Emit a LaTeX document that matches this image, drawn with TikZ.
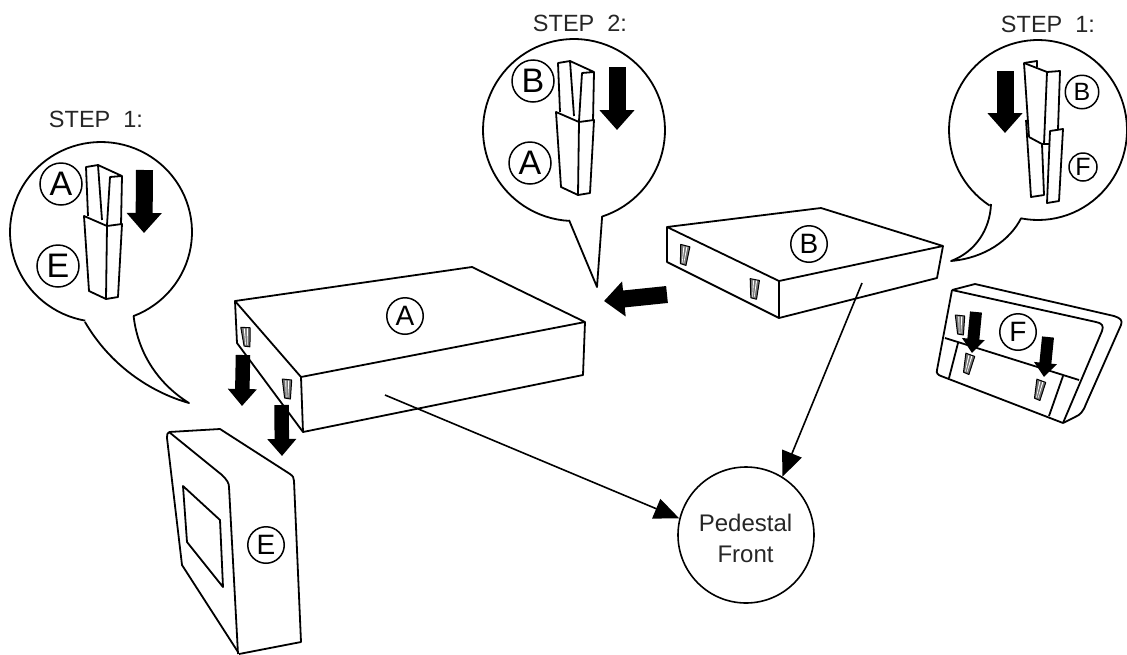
\documentclass[tikz,border=0pt]{standalone}
\usepackage{fontspec}
\setmainfont{Liberation Sans}
\usetikzlibrary{arrows.meta}
\tikzset{
  x=1pt,y=-1pt,
  ink/.style={line width=1.8pt,line join=round,draw=black},
  lead/.style={line width=1.6pt,-{Triangle[length=25pt,width=21pt]}},
  fatL/.style={line width=17pt,-{Triangle[length=20pt,width=34pt]}},
  fatM/.style={line width=14.5pt,-{Triangle[length=17pt,width=28pt]}},
  fatS/.style={line width=12pt,-{Triangle[length=14pt,width=22pt]}},
  steptext/.style={font=\fontsize{23.5}{28}\selectfont,inner sep=0pt,text=black!85},
  ringbig/.style={circle,draw,line width=1.5pt,minimum size=42pt,inner sep=0pt,font=\fontsize{34}{36}\selectfont},
  ringmid/.style={circle,draw,line width=1.5pt,minimum size=36.5pt,inner sep=0pt,font=\fontsize{28}{30}\selectfont},
  ringsm/.style={circle,draw,line width=1.5pt,minimum size=33.5pt,inner sep=0pt,font=\fontsize{25}{28}\selectfont},
  ringxs/.style={circle,draw,line width=1.5pt,minimum size=28pt,inner sep=0pt,font=\fontsize{25}{28}\selectfont},
}
\newcommand\fatarrow[4]{\coordinate (#2s) at (#3); \coordinate (#2e) at (#4); \draw[#1] (#2s) -- (#2e);}
\newcommand\slotmark[3]{%
  \begin{scope}[shift={(#1,#2)},rotate=#3]
    \filldraw[fill=black!55,draw=black,line width=1pt,line join=round] (-4.7,-10) -- (4.7,-9) -- (3.4,10) -- (-2.4,9) -- cycle;
    \fill[white] (-1.8,-8.5) -- (-.7,-8.5) -- (-.5,8) -- (-1,8) -- cycle;
    \fill[white] (1.2,-8.5) -- (2.3,-8.5) -- (1.2,8) -- (.7,8) -- cycle;
  \end{scope}}
\newcommand\jointshape[2]{%
  \begin{scope}[shift={(#1,#2)}]
    \draw[ink] (88,216) -- (86,167) -- (98,165) -- (122,176) -- (110,177) -- (107,225);
    \draw[ink] (98,165) -- (102,220);
    \draw[ink] (122,176) -- (121,225);
    \draw[ink] (84,216) -- (107,226) -- (122,224) -- (118,297) -- (106,299) -- (89,291) -- cycle;
    \draw[ink] (107,226) -- (106,299);
  \end{scope}}
\begin{document}
\begin{tikzpicture}
\useasboundingbox (0,0) rectangle (1127,654);

% bubbles
\draw[ink] plot[domain=100:429,samples=90,variable=\t] ({101+91*cos(\t)},{232+90*sin(\t)})
  .. controls (138,355) and (160,385) .. (189,403)
  .. controls (150,392) and (110,365) .. (85,322);
\draw[ink] plot[domain=93:432,samples=90,variable=\t] ({574+91*cos(\t)},{130+91*sin(\t)})
  -- (597,287) -- (569,220);
\draw[ink] plot[domain=123:461,samples=90,variable=\t] ({1038+89*cos(\t)},{130+90*sin(\t)})
  .. controls (1010,240) and (985,258) .. (951,261)
  .. controls (975,252) and (990,230) .. (991,204);

\node[steptext] (s1) at (96,119) {STEP\ \ 1:};
\node[steptext] (s2) at (580,23) {STEP\ \ 2:};
\node[steptext] (s3) at (1048,24) {STEP\ \ 1:};

% joints
\jointshape{0}{0}
\jointshape{472}{-104}
\node[ringbig] (ra1) at (61,184) {A};
\node[ringbig] (re1) at (58,266) {E};
\node[ringbig] (rb2) at (533,81) {B};
\node[ringbig] (ra2) at (530,163) {A};
\node[ringsm] (rb3) at (1082,92) {B};
\node[ringxs] (rf3) at (1083,167) {F};

% right joint
\draw[ink] (1029,137) -- (1024,63) -- (1037,61) -- (1037,67);
\draw[ink] (1024,63) -- (1047,72) -- (1060,71) -- (1058,129);
\draw[ink] (1047,72) -- (1044,144);
\draw[ink] (1029,137) -- (1042,144) -- (1049,144);
\draw[ink] (1026,120) -- (1031,197) -- (1044,195) -- (1042,144);
\draw[ink,fill=white] (1050,131) -- (1063,129) -- (1059,201) -- (1047,203) -- cycle;

% box A
\draw[ink] (235,301) -- (472,267) -- (585,322) -- (301,377) -- cycle;
\draw[ink] (235,301) -- (237,343) -- (303,432) -- (583,375) -- (585,322);
\draw[ink] (301,377) -- (303,432);
\node[ringmid] (ra) at (405,316) {A};
\slotmark{246}{337}{3}
\slotmark{287}{389}{0}

% box B
\draw[ink] (667,227) -- (821,208) -- (943,246) -- (779,281) -- cycle;
\draw[ink] (667,227) -- (667,262) -- (779,318) -- (937,278) -- (943,246);
\draw[ink] (779,281) -- (779,318);
\node[ringmid] (rb) at (809,244) {B};
\slotmark{684}{255}{-8}
\slotmark{754}{289}{-5}

% box E
\draw[ink] (169,432) -- (220,429) -- (290,474) .. controls (293,476) and (294,478) .. (294,481) -- (301,642) -- (239,654);
\draw[ink] (169,432) -- (222,475) .. controls (227,480) and (229,483) .. (229,487) -- (238,654);
\draw[ink] (169,432) .. controls (167,433) and (167,435) .. (167,438) -- (182,565) -- (238,652);
\draw[ink] (183,486) -- (220,520) -- (223,587) -- (187,542) -- cycle;
\node[ringmid] (re) at (266,545) {E};

% box F
\draw[ink] (952,290) -- (975,284) -- (1114,316) .. controls (1120,318) and (1123,320) .. (1121,325) -- (1086,404) .. controls (1083,412) and (1080,415) .. (1075,417) -- (1063,423);
\draw[ink] (952,290) -- (1096,322) .. controls (1102,323) and (1104,326) .. (1102,331) -- (1063,423);
\draw[ink] (1063,423) -- (941,376) .. controls (938,375) and (936,373) .. (937,370) -- (952,290);
\draw[ink] (945,338) -- (1079,380);
\draw[ink] (958,343) -- (949,378);
\draw[ink] (1063,376) -- (1049,416);
\node[ringmid] (rf) at (1018,332) {F};
\slotmark{960}{325}{0}
\slotmark{968}{364}{-14}
\slotmark{1039}{390}{-14}

% pedestal and leaders
\node[circle,draw,line width=1.6pt,minimum size=136pt,inner sep=0pt] (ped) at (746,535) {};
\node[align=center,inner sep=0pt,font=\fontsize{24}{31}\selectfont,text=black!85] (pedtext) at (745.5,538) {Pedestal\\Front};
\coordinate (la) at (385,395);
\coordinate (lb) at (862,283);
\draw[lead] (la) -- (ped.166);
\draw[lead] (lb) -- (ped.58);

% fat arrows
\fatarrow{fatL}{a1}{144.5,170}{144,233}
\fatarrow{fatL}{a2}{617,67}{617,130}
\fatarrow{fatL}{a3}{1005,71}{1005,133}
\fatarrow{fatL}{a4}{667,294.5}{604,301}
\fatarrow{fatM}{a5}{243,355}{242,406}
\fatarrow{fatM}{a6}{281.5,405}{282,456}
\fatarrow{fatS}{a7}{976,312}{972,353}
\fatarrow{fatS}{a8}{1048,337}{1044,377}
\end{tikzpicture}
\end{document}
